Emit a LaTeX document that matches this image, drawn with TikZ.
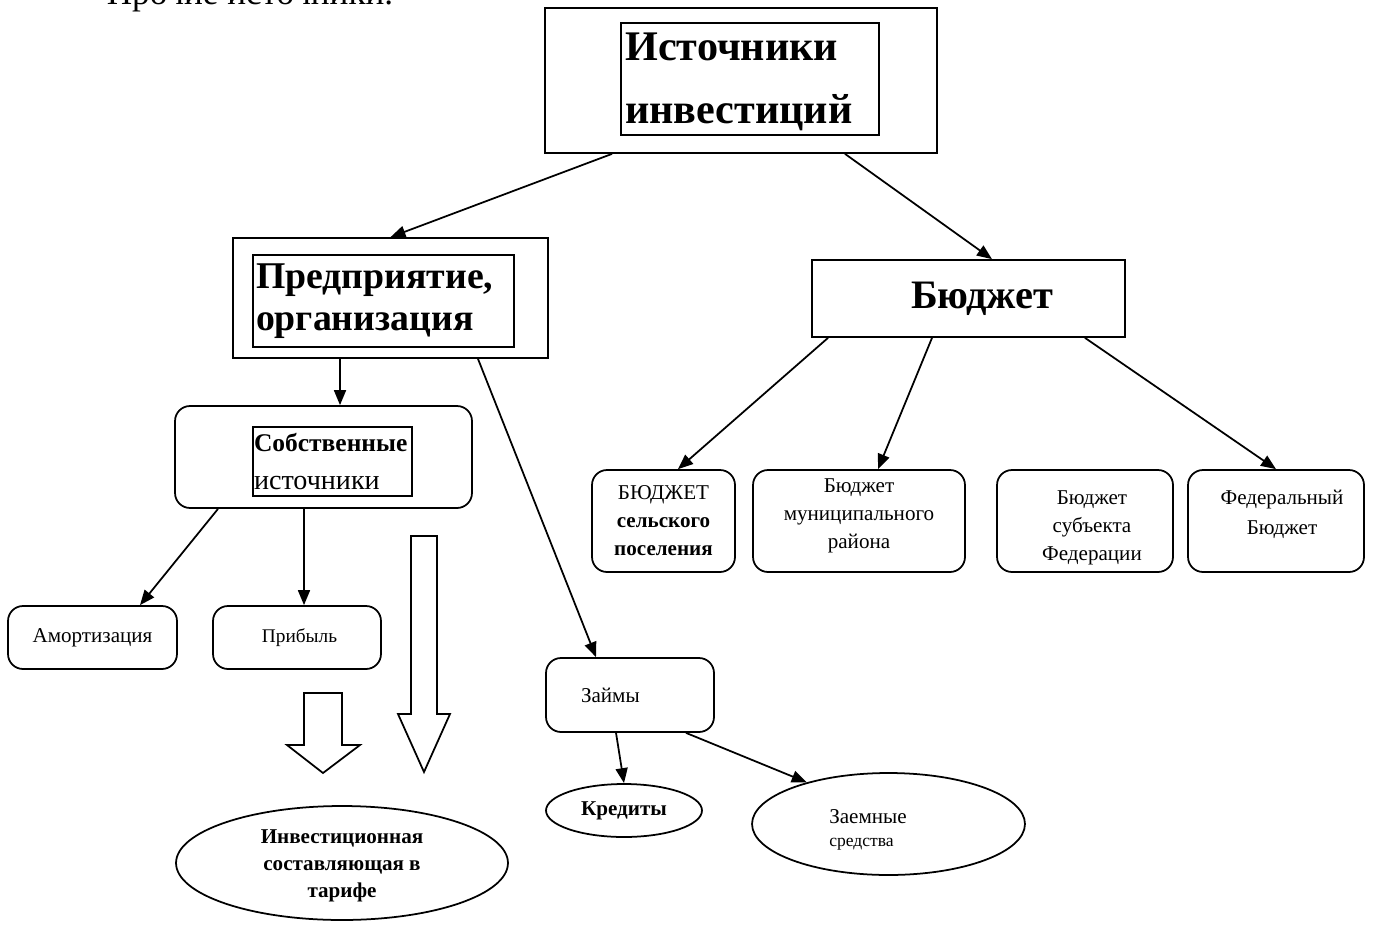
\documentclass[tikz,border=0pt]{standalone}
\usepackage{fontspec}
\setmainfont{Liberation Serif}
\usetikzlibrary{arrows.meta,shapes.geometric}

\tikzset{
  box/.style={draw, line width=1pt, inner sep=0pt, align=center},
  rbox/.style={box, rounded corners=0.3cm},
  oval/.style={draw, line width=1pt, ellipse, inner sep=0pt, align=center},
  arr/.style={-{Triangle[length=0.3cm, width=0.24cm]}, line width=1pt},
  hollow/.style={draw, line width=1pt, line join=miter},
  small/.style={font=\fontsize{12}{16}\selectfont},
  txt/.style={small, align=center, inner sep=0pt},
}

\begin{document}
\begin{tikzpicture}[x=0.02cm, y=-0.02cm]
  \useasboundingbox (0,0) rectangle (1375,926);
  \clip (0,0) rectangle (1375,926);

  % cut-off line above the chart
  \node[anchor=base, font=\fontsize{20}{24}\selectfont] (rest) at (250,5) {Прочие источники.};

  % top
  \node[box, minimum width=7.84cm, minimum height=2.9cm] (top) at (741,80.5) {};
  \node[box, minimum width=5.16cm, minimum height=2.24cm] (topin) at (750,79) {};
  \node[txt, anchor=west, align=left, font=\fontsize{24}{36}\selectfont\bfseries] (topt) at (625,82)
        {Источники\\инвестиций};

  % second row
  \node[box, minimum width=6.3cm, minimum height=2.4cm] (pred) at (390.5,298) {};
  \node[box, minimum width=5.22cm, minimum height=1.84cm, text width=5.1cm, align=left,
        font=\fontsize{21.5}{24}\selectfont\bfseries] (predin) at (383.5,301) {Предприятие,\\организация};
  \node[box, minimum width=6.26cm, minimum height=1.54cm,
        font=\fontsize{23}{28}\selectfont\bfseries] (bud) at (968.5,298.5) {\hspace{0.55cm}Бюджет};

  % own sources
  \node[rbox, minimum width=5.94cm, minimum height=2.04cm] (own) at (323.5,457) {};
  \node[box, minimum width=3.18cm, minimum height=1.38cm, text width=3.14cm, align=left,
        font=\fontsize{16}{21.5}\selectfont] (ownin) at (332.5,461.5)
        {{\fontsize{14.5}{16}\selectfont\textbf{Собственные}}\\источники};
  \node[rbox, small, minimum width=3.38cm, minimum height=1.26cm] (amort) at (92.5,637.5) {Амортизация};
  \node[rbox, minimum width=3.36cm, minimum height=1.26cm,
        font=\fontsize{11}{14}\selectfont] (prib) at (297,637.5) {\hspace{0.1cm}Прибыль};

  % budgets
  \node[rbox, small, minimum width=2.86cm, minimum height=2.04cm] (b1) at (663.5,521) {БЮДЖЕТ\\\textbf{сельского}\\\textbf{поселения}};
  \node[rbox, small, minimum width=4.24cm, minimum height=2.04cm] (b2) at (859,521) {Бюджет\\муниципального\\района\vspace{0.2cm}};
  \node[rbox, minimum width=3.52cm, minimum height=2.04cm] (b3) at (1085,521) {};
  \node[txt] (b3t) at (1092,528) {Бюджет\\субъекта\\Федерации};
  \node[rbox, minimum width=3.52cm, minimum height=2.04cm] (b4) at (1276,521) {};
  \node[txt, font=\fontsize{12}{17}\selectfont] (b4t) at (1282,514) {Федеральный\\Бюджет};

  % loans
  \node[rbox, small, minimum width=3.36cm, minimum height=1.48cm, text width=1.96cm,
        align=left, inner xsep=0.7cm] (zaim) at (630,695) {Займы};
  \node[oval, small, minimum width=3.12cm, minimum height=1.06cm] (cred) at (624,810.5) {\textbf{Кредиты}};
  \node[oval, minimum width=5.46cm, minimum height=2.04cm] (zaem) at (888.5,824) {};
  \node[txt, align=left] (zaemt) at (868,830)
        {Заемные\\[-3pt]{\fontsize{10}{12}\selectfont средства}};
  \node[oval, minimum width=6.64cm, minimum height=2.28cm] (inv) at (342,863) {};
  \node[txt, font=\fontsize{12}{15.5}\selectfont\bfseries] (invt) at (342,866)
        {Инвестиционная\\составляющая в\\тарифе};

  % hollow arrows
  \draw[hollow] (304,693) -- (342,693) -- (342,745) -- (360,745) -- (323,773)
        -- (287,745) -- (304,745) -- cycle;
  \draw[hollow] (411,536) -- (437,536) -- (437,714) -- (450,714) -- (424,772)
        -- (398,714) -- (411,714) -- cycle;

  % connectors
  \draw[arr] ([xshift=-2.58cm]top.south) -- (pred.north);
  \draw[arr] ([xshift=2.08cm]top.south) -- ([xshift=0.47cm]bud.north);
  \draw[arr] ([xshift=-1.01cm]pred.south) -- ([xshift=0.33cm]own.north);
  \draw[arr] ([xshift=1.75cm]pred.south) -- ([xshift=-0.68cm]zaim.north);
  \draw[arr] ([xshift=-2.11cm]own.south) -- ([xshift=0.95cm]amort.north);
  \draw[arr] ([xshift=-0.39cm]own.south) -- ([xshift=0.14cm]prib.north);
  \draw[arr] ([xshift=-2.81cm]bud.south) -- ([xshift=0.29cm]b1.north);
  \draw[arr] ([xshift=-0.73cm]bud.south) -- ([xshift=0.38cm]b2.north);
  \draw[arr] ([xshift=2.33cm]bud.south) -- (b4.north);
  \draw[arr] ([xshift=-0.28cm]zaim.south) -- (cred.north);
  \draw[arr] ([xshift=1.12cm]zaim.south) -- (zaem.153);
\end{tikzpicture}
\end{document}
